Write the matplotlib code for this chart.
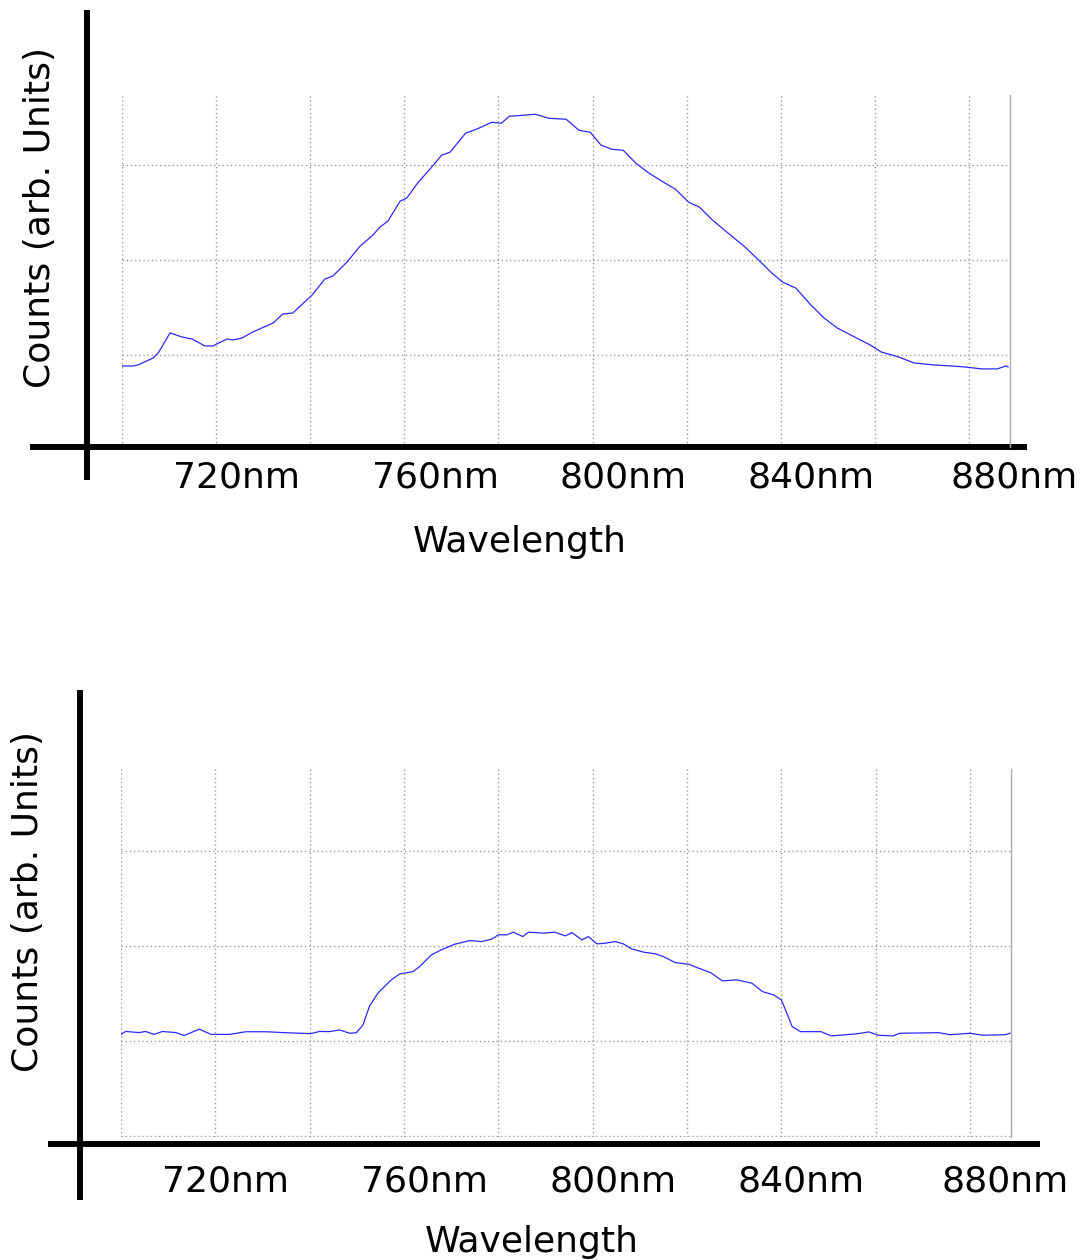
import numpy as np
import matplotlib.pyplot as plt
from matplotlib.transforms import ScaledTranslation

# spectrum 1 (top) - wavelength in nm, counts in arb. units
wl_top = [700.0, 702.3, 703.4, 706.6, 707.7, 710.2, 712.8, 714.9, 717.6, 719.3,
          722.3, 723.6, 725.5, 727.8, 732.1, 734.2, 736.3, 740.4, 743.1, 744.8,
          747.8, 750.6, 753.3, 754.8, 756.5, 759.1, 760.5, 762.8, 765.6, 767.9,
          769.7, 773.0, 775.3, 778.6, 780.6, 782.3, 785.1, 787.9, 790.7, 794.4,
          797.1, 799.5, 801.8, 804.1, 806.5, 809.2, 812.0, 814.7, 817.6, 820.4,
          822.7, 825.5, 828.8, 832.4, 835.3, 838.1, 840.4, 843.2, 846.4, 849.2,
          852.0, 855.7, 859.0, 861.3, 865.0, 868.3, 872.5, 876.2, 879.0, 882.7,
          886.0, 887.8, 888.3]
cnt_top = [0.884, 0.884, 0.895, 0.968, 1.021, 1.232, 1.189, 1.168, 1.095, 1.095,
           1.168, 1.158, 1.179, 1.242, 1.337, 1.432, 1.442, 1.632, 1.800, 1.832,
           1.979, 2.147, 2.263, 2.347, 2.411, 2.621, 2.653, 2.811, 2.968, 3.105,
           3.137, 3.337, 3.379, 3.453, 3.442, 3.516, 3.526, 3.537, 3.495, 3.484,
           3.368, 3.347, 3.211, 3.168, 3.158, 3.021, 2.916, 2.832, 2.747, 2.611,
           2.558, 2.421, 2.284, 2.137, 2.000, 1.863, 1.768, 1.705, 1.526, 1.389,
           1.284, 1.189, 1.105, 1.032, 0.979, 0.916, 0.895, 0.884, 0.874, 0.853,
           0.853, 0.884, 0.874]

# spectrum 2 (bottom)
wl_bot = [700.0, 701.0, 703.8, 705.2, 707.0, 708.8, 711.6, 713.4, 716.6, 719.1,
          723.0, 726.5, 730.8, 735.7, 740.3, 742.1, 744.2, 746.3, 748.5, 749.9,
          751.3, 752.7, 754.5, 757.3, 759.1, 761.9, 763.3, 765.8, 767.9, 770.8,
          774.0, 776.5, 778.6, 780.0, 781.8, 783.2, 785.2, 786.4, 789.5, 792.0,
          794.2, 795.6, 797.7, 799.1, 800.9, 802.7, 804.8, 806.5, 808.3, 810.8,
          813.3, 815.0, 817.5, 820.4, 822.1, 825.0, 827.5, 830.6, 833.8, 836.0,
          838.4, 840.0, 840.9, 842.3, 844.1, 848.4, 850.1, 850.7, 855.8, 858.6,
          860.5, 863.7, 865.1, 873.4, 875.8, 880.0, 882.8, 887.5, 888.5]
cnt_bot = [1.069, 1.100, 1.088, 1.100, 1.069, 1.100, 1.088, 1.058, 1.124, 1.069,
           1.069, 1.097, 1.097, 1.085, 1.077, 1.100, 1.098, 1.116, 1.081, 1.087,
           1.168, 1.368, 1.505, 1.642, 1.705, 1.729, 1.782, 1.905, 1.958, 2.018,
           2.056, 2.045, 2.071, 2.116, 2.116, 2.144, 2.098, 2.144, 2.134, 2.144,
           2.105, 2.140, 2.063, 2.098, 2.021, 2.028, 2.045, 2.021, 1.968, 1.934,
           1.916, 1.887, 1.824, 1.807, 1.772, 1.719, 1.632, 1.642, 1.607, 1.519,
           1.484, 1.432, 1.326, 1.151, 1.098, 1.098, 1.063, 1.053, 1.074, 1.095,
           1.060, 1.053, 1.081, 1.087, 1.066, 1.081, 1.060, 1.066, 1.081]

tick_wl = [720, 760, 800, 840, 880]
tick_text = ['720nm', '760nm', '800nm', '840nm', '880nm']

FS = 26
W, H = 1086, 1260
fig = plt.figure(figsize=(W / 100, H / 100), dpi=100)


def panel(rect, wl, cnt, ylim, yticks, pad, shifts, frame, xlab, ylab):
    ax = fig.add_axes(rect)
    ax.plot(wl, cnt, color='#2a2aff', lw=0.9)
    ax.set_xlim(700, 888.7)
    ax.set_ylim(*ylim)
    ax.set_xticks(tick_wl)
    ax.set_xticklabels(tick_text, fontsize=FS)
    ax.set_xticks(np.arange(700, 881, 20), minor=True)
    ax.set_yticks(yticks)
    ax.set_yticklabels([])
    ax.tick_params(which='both', length=0, pad=pad)
    ax.set_axisbelow(True)
    ax.grid(True, which='both', color='#999999', lw=1.0, ls=(0, (1, 2)))
    for s in ['top', 'left', 'bottom']:
        ax.spines[s].set_visible(False)
    ax.spines['right'].set_color('#aaaaaa')
    ax.spines['right'].set_linewidth(1.0)

    # shift tick labels a bit to the right, like the original drawing
    for lab, dx in zip(ax.get_xticklabels(), shifts):
        lab.set_transform(lab.get_transform() + ScaledTranslation(dx / 100, 0, fig.dpi_scale_trans))

    # heavy hand-drawn axes
    vx, vy0, vy1, hy, hx0, hx1 = frame
    ax.plot([vx, vx], [vy0, vy1], transform=ax.transAxes, clip_on=False,
            color='k', lw=4.3, solid_capstyle='butt')
    ax.plot([hx0, hx1], [hy, hy], transform=ax.transAxes, clip_on=False,
            color='k', lw=4.3, solid_capstyle='butt')

    ax.set_xlabel('Wavelength', fontsize=FS, va='center')
    ax.xaxis.set_label_coords(*xlab)
    ax.set_ylabel('Counts (arb. Units)', fontsize=FS, va='center')
    ax.yaxis.set_label_coords(*ylab)
    return ax


ax1 = panel([122 / W, (H - 447) / H, 888 / W, 352 / H], wl_top, cnt_top,
            (0.03, 3.74), [1, 2, 3], 10, [20, 31, 30, 30, 45],
            (-0.0394, -0.0938, 1.2415, 0.0, -0.1036, 1.0191),
            (0.4482, -0.27), (-0.0923, 0.6534))

ax2 = panel([121 / W, (H - 1137) / H, 890 / W, 368 / H], wl_bot, cnt_bot,
            (-0.01, 3.86), [0, 1, 2, 3], 20, [10, 21, 20, 20, 35],
            (-0.0461, -0.1712, 1.2147, -0.019, -0.0820, 1.0326),
            (0.4618, -0.2853), (-0.1045, 0.6386))

fig.savefig('out.png', dpi=100)
